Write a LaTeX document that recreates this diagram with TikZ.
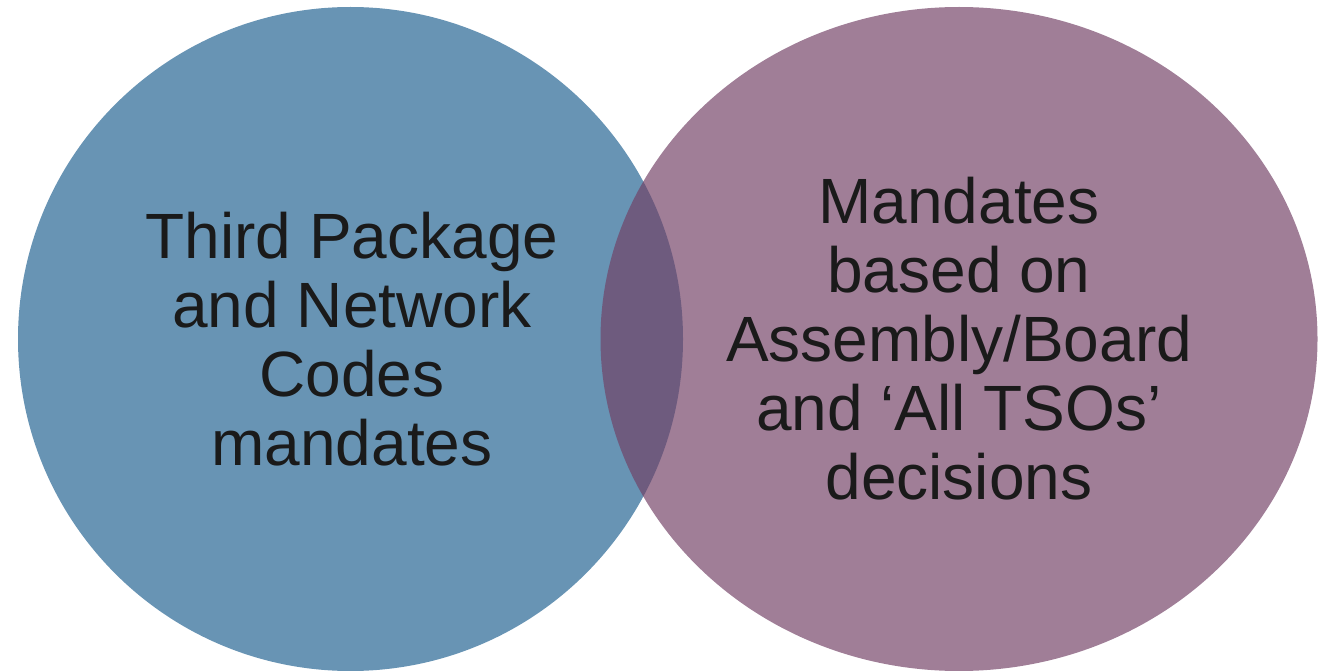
\documentclass[tikz,border=0pt]{standalone}
\usepackage{fontspec}
\setmainfont{Liberation Sans}
\definecolor{bluec}{RGB}{104,148,180}
\definecolor{purplec}{RGB}{114,64,101}
\definecolor{textc}{RGB}{26,26,26}
\begin{document}
\begin{tikzpicture}[x=1pt,y=-1pt,
  label text/.style={text=textc,align=center,inner sep=0pt,
    font=\fontsize{64}{69}\selectfont}]
\useasboundingbox (0,0) rectangle (1322,671);
\fill[bluec] (350.5,339) ellipse [x radius=332.5, y radius=332];
\fill[purplec,fill opacity=0.675] (959,339) ellipse [x radius=358.5, y radius=332];
\node[label text] (left) at (352,339) {Third Package\\and Network\\Codes\\mandates};
\node[label text] (right) at (959,339) {Mandates\\based on\\Assembly/Board\\and ‘All TSOs’\\decisions};
\end{tikzpicture}
\end{document}
